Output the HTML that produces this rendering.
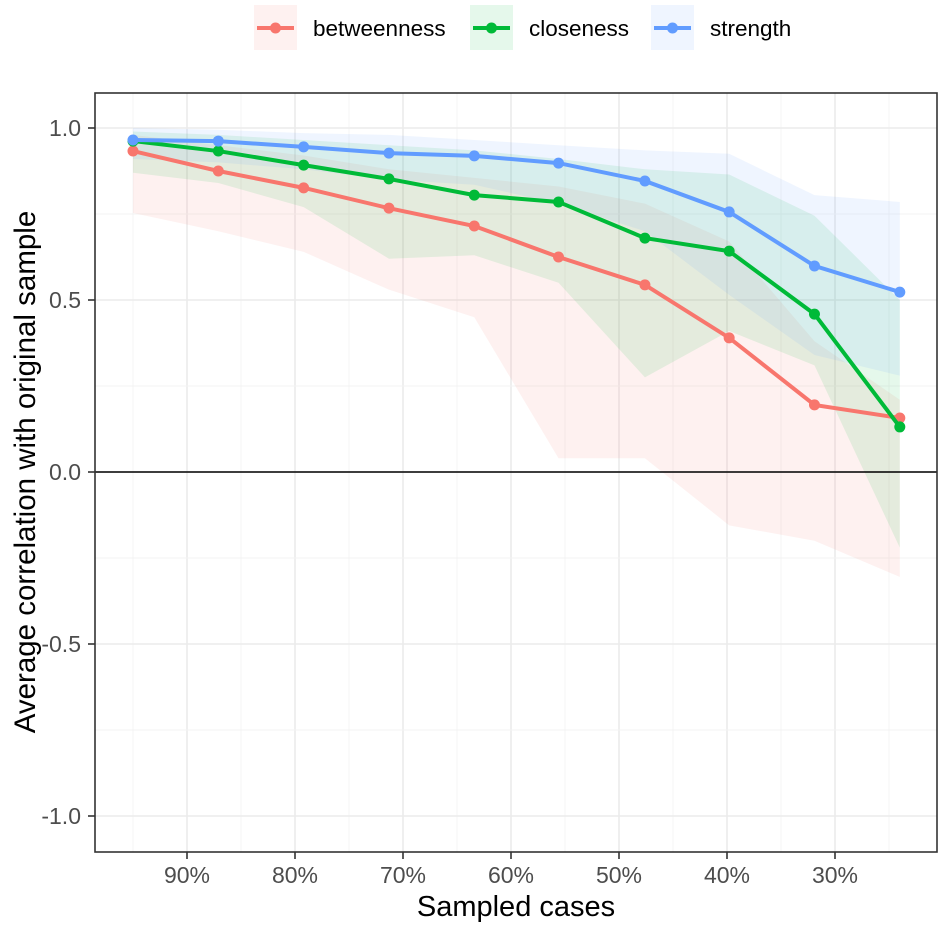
<!DOCTYPE html>
<html><head><meta charset="utf-8"><style>
body{margin:0;background:#fff;}
svg text{font-family:"Liberation Sans",Arial,sans-serif;}
</style></head><body>
<svg id="chart" width="945" height="928" xmlns="http://www.w3.org/2000/svg">
<g id="grid"></g><g id="bands"></g><g id="lines"></g><g id="axes"></g>
<g id="legend"></g>
</svg>
<script>
const xPercents=[95,87.1,79.2,71.3,63.4,55.6,47.6,39.8,31.9,24];
const betweenness=[0.933,0.875,0.826,0.767,0.715,0.625,0.544,0.39,0.195,0.157];
const betweennessLow=[0.753,0.70,0.64,0.53,0.45,0.04,0.04,-0.155,-0.2,-0.305];
const betweennessHigh=[0.98,0.95,0.92,0.88,0.855,0.83,0.78,0.67,0.38,0.21];
const closeness=[0.962,0.933,0.892,0.852,0.805,0.785,0.68,0.642,0.459,0.131];
const closenessLow=[0.87,0.84,0.77,0.62,0.63,0.55,0.275,0.41,0.31,-0.22];
const closenessHigh=[0.99,0.98,0.965,0.95,0.935,0.91,0.88,0.865,0.745,0.50];
const strength=[0.965,0.962,0.945,0.927,0.919,0.898,0.846,0.756,0.599,0.523];
const strengthLow=[0.91,0.90,0.88,0.85,0.835,0.78,0.70,0.515,0.34,0.28];
const strengthHigh=[1.0,0.995,0.985,0.98,0.965,0.95,0.935,0.925,0.805,0.785];
const xTicks=[90,80,70,60,50,40,30];
const xTickLabels=["90%","80%","70%","60%","50%","40%","30%"];
const yTicks=[-1,-0.5,0,0.5,1];
const yTickLabels=["-1.0","-0.5","0.0","0.5","1.0"];
const seriesNames=["betweenness","closeness","strength"];

const NS="http://www.w3.org/2000/svg";
const L=95,R=937,T=93,B=852;
const xs=p=>187+(90-p)*10.8;
const ys=v=>472-v*344;
function mk(parent,tag,attrs,text){const e=document.createElementNS(NS,tag);for(const k in attrs)e.setAttribute(k,attrs[k]);if(text!==undefined)e.textContent=text;document.getElementById(parent).appendChild(e);return e;}

let g;
for(let i=0;i<xTicks.length;i++){
  g=mk('grid','line',{x1:xs(xTicks[i]),x2:xs(xTicks[i]),y1:T,y2:B,stroke:'#ebebeb','stroke-width':1.6});
  
  g=mk('grid','line',{x1:xs(xTicks[i]+5),x2:xs(xTicks[i]+5),y1:T,y2:B,stroke:'#f3f3f3','stroke-width':0.9});
  
}
g=mk('grid','line',{x1:xs(25),x2:xs(25),y1:T,y2:B,stroke:'#f3f3f3','stroke-width':0.9});

for(let i=0;i<yTicks.length;i++){
  g=mk('grid','line',{x1:L,x2:R,y1:ys(yTicks[i]),y2:ys(yTicks[i]),stroke:'#ebebeb','stroke-width':1.6});
  
  if(i<yTicks.length-1){g=mk('grid','line',{x1:L,x2:R,y1:ys(yTicks[i]+0.25),y2:ys(yTicks[i]+0.25),stroke:'#f3f3f3','stroke-width':0.9});
  }
}
const colors=['#f8766d','#00ba38','#619cff'];
const vals=[betweenness,closeness,strength],lows=[betweennessLow,closenessLow,strengthLow],highs=[betweennessHigh,closenessHigh,strengthHigh];
for(let s=0;s<3;s++){
  let pts=xPercents.map((p,i)=>xs(p)+','+ys(highs[s][i]));
  pts=pts.concat(xPercents.map((p,i)=>xs(p)+','+ys(lows[s][i])).reverse());
  g=mk('bands','polygon',{points:pts.join(' '),fill:colors[s],'fill-opacity':0.1});
  
}
g=mk('lines','line',{x1:L,x2:R,y1:ys(0),y2:ys(0),stroke:'#000','stroke-width':1.6});

for(let s=0;s<3;s++){
  g=mk('lines','polyline',{points:xPercents.map((p,i)=>xs(p)+','+ys(vals[s][i])).join(' '),fill:'none',stroke:colors[s],'stroke-width':4});
  
  for(let i=0;i<xPercents.length;i++){
    g=mk('lines','circle',{cx:xs(xPercents[i]),cy:ys(vals[s][i]),r:5.5,fill:colors[s]});
    
  }
}
g=mk('axes','rect',{x:L,y:T,width:R-L,height:B-T,fill:'none',stroke:'#333','stroke-width':1.6});

for(let i=0;i<xTicks.length;i++){
  g=mk('axes','line',{x1:xs(xTicks[i]),x2:xs(xTicks[i]),y1:B,y2:B+7,stroke:'#333','stroke-width':1.6});
  
  g=mk('axes','text',{x:xs(xTicks[i]),y:B+31,'text-anchor':'middle','font-size':23,fill:'#4d4d4d'},xTickLabels[i]);
  
}
for(let i=0;i<yTicks.length;i++){
  g=mk('axes','line',{x1:L-7,x2:L,y1:ys(yTicks[i]),y2:ys(yTicks[i]),stroke:'#333','stroke-width':1.6});
  
  g=mk('axes','text',{x:L-14,y:ys(yTicks[i])+8,'text-anchor':'end','font-size':23,fill:'#4d4d4d'},yTickLabels[i]);
  
}
g=mk('axes','text',{x:516,y:916,'text-anchor':'middle','font-size':29,fill:'#000'},'Sampled cases');

g=mk('axes','text',{x:0,y:0,transform:'translate(35,472) rotate(-90)','text-anchor':'middle','font-size':29.5,fill:'#000'},'Average correlation with original sample');

const legX=[254,470,651];
for(let s=0;s<3;s++){
  g=mk('legend','rect',{x:legX[s],y:5,width:43,height:45,fill:colors[s],'fill-opacity':0.1});
  
  g=mk('legend','line',{x1:legX[s]+3,x2:legX[s]+40,y1:28,y2:28,stroke:colors[s],'stroke-width':4});
  
  g=mk('legend','circle',{cx:legX[s]+21.5,cy:28,r:5.5,fill:colors[s]});
  
  g=mk('legend','text',{x:legX[s]+59,y:36,'font-size':22.5,fill:'#000'},seriesNames[s]);
  
}
</script>
</body></html>
